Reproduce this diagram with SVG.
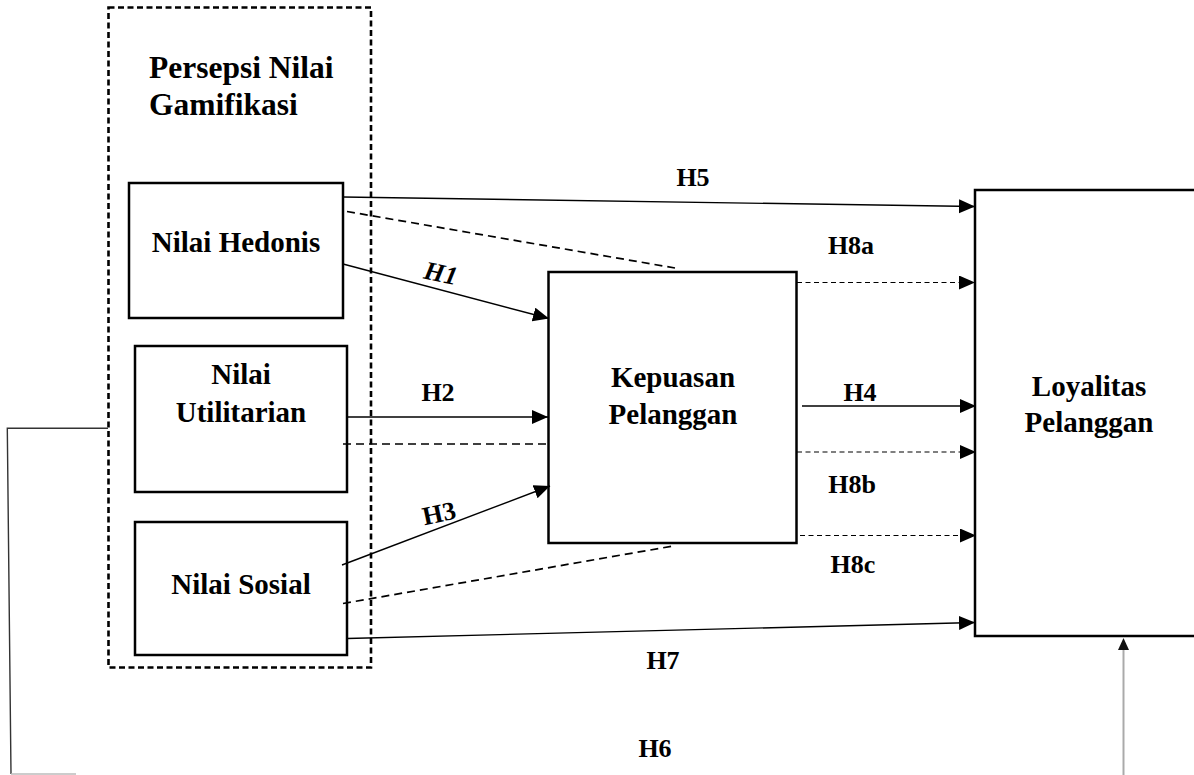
<svg xmlns="http://www.w3.org/2000/svg" width="1194" height="775" viewBox="0 0 1194 775">
<style>
.t{font-family:"Liberation Serif","Times New Roman",serif;font-weight:bold;fill:#000}
.title{font-size:31.5px}
.node{font-size:29px}
.lbl{font-size:26px}
.box{fill:#fff;stroke:#000;stroke-width:2.5}
.ln{fill:none;stroke:#000;stroke-width:1.4}
.dl{fill:none;stroke:#000;stroke-width:1.7;stroke-dasharray:8 5}
.fd{fill:none;stroke:#000;stroke-width:1.2;stroke-dasharray:5 3.5}
</style>
<defs>
<marker id="ah" markerUnits="userSpaceOnUse" markerWidth="17" markerHeight="15" refX="16" refY="7" orient="auto">
<path d="M0,0 L16,7 L0,14 z" fill="#000"/>
</marker>
</defs>
<rect width="1194" height="775" fill="#fff"/>
<g id="group-persepsi">
<rect x="108.5" y="7.5" width="262.5" height="660" fill="none" stroke="#000" stroke-width="2.6" stroke-dasharray="6 3.5"/>
<text class="t title" x="149" y="78">Persepsi Nilai</text>
<text class="t title" x="149" y="115">Gamifikasi</text>
</g>
<g id="node-hedonis">
<rect class="box" x="129" y="183" width="214" height="135"/>
<text class="t node" x="236" y="252" text-anchor="middle">Nilai Hedonis</text>
</g>
<g id="node-utilitarian">
<rect class="box" x="135" y="346" width="212" height="146"/>
<text class="t node" x="241" y="384" text-anchor="middle">Nilai</text>
<text class="t node" x="241" y="422" text-anchor="middle">Utilitarian</text>
</g>
<g id="node-sosial">
<rect class="box" x="135" y="522" width="212" height="133"/>
<text class="t node" x="241" y="594" text-anchor="middle">Nilai Sosial</text>
</g>
<g id="node-kepuasan">
<rect class="box" x="548.5" y="272" width="248" height="271"/>
<text class="t node" x="673" y="387" text-anchor="middle">Kepuasan</text>
<text class="t node" x="673" y="424" text-anchor="middle">Pelanggan</text>
</g>
<g id="node-loyalitas">
<rect class="box" x="975" y="190" width="227" height="446"/>
<text class="t node" x="1089" y="396" text-anchor="middle">Loyalitas</text>
<text class="t node" x="1089" y="432" text-anchor="middle">Pelanggan</text>
</g>
<g id="connectors">
<line class="ln" x1="343" y1="197" x2="975" y2="206.5" marker-end="url(#ah)"/>
<line class="dl" x1="347" y1="211.5" x2="675" y2="268"/>
<line class="ln" x1="343" y1="264" x2="549" y2="318.5" marker-end="url(#ah)"/>
<line class="ln" x1="347" y1="417" x2="548" y2="417" marker-end="url(#ah)"/>
<line class="dl" x1="343" y1="444" x2="548" y2="444"/>
<line class="ln" x1="342" y1="565" x2="550" y2="486" marker-end="url(#ah)"/>
<line class="dl" x1="343" y1="603.5" x2="676" y2="545.5"/>
<line class="ln" x1="347" y1="638.5" x2="975" y2="622.5" marker-end="url(#ah)"/>
<line class="fd" x1="797" y1="282.5" x2="975" y2="282.5" marker-end="url(#ah)"/>
<line class="ln" x1="802" y1="406" x2="976" y2="406" marker-end="url(#ah)"/>
<line class="fd" x1="797" y1="452" x2="976" y2="452" marker-end="url(#ah)"/>
<line class="fd" x1="800" y1="535.5" x2="976" y2="535.5" marker-end="url(#ah)"/>
<polyline fill="none" stroke="#333" stroke-width="1.4" points="108,428.3 7.3,428.3 11,774"/>
<line x1="11" y1="774" x2="76" y2="774" stroke="#bbb" stroke-width="1.5"/>
<line x1="1123.5" y1="775" x2="1123.5" y2="650" stroke="#aaa" stroke-width="2"/>
<path d="M1118,650 L1123.5,638 L1129,650 z" fill="#111"/>
</g>
<g id="labels">
<text class="t lbl" x="693" y="186" text-anchor="middle">H5</text>
<text class="t lbl" x="851" y="254" text-anchor="middle">H8a</text>
<text class="t lbl" x="441" y="282" text-anchor="middle" font-style="italic" transform="rotate(12 441 273)">H1</text>
<text class="t lbl" x="438" y="401" text-anchor="middle">H2</text>
<text class="t lbl" x="860" y="401" text-anchor="middle">H4</text>
<text class="t lbl" x="852" y="493" text-anchor="middle">H8b</text>
<text class="t lbl" x="439" y="522" text-anchor="middle" transform="rotate(-12 439 513)">H3</text>
<text class="t lbl" x="853" y="573" text-anchor="middle">H8c</text>
<text class="t lbl" x="663" y="669" text-anchor="middle">H7</text>
<text class="t lbl" x="655" y="757" text-anchor="middle">H6</text>
</g>
</svg>
